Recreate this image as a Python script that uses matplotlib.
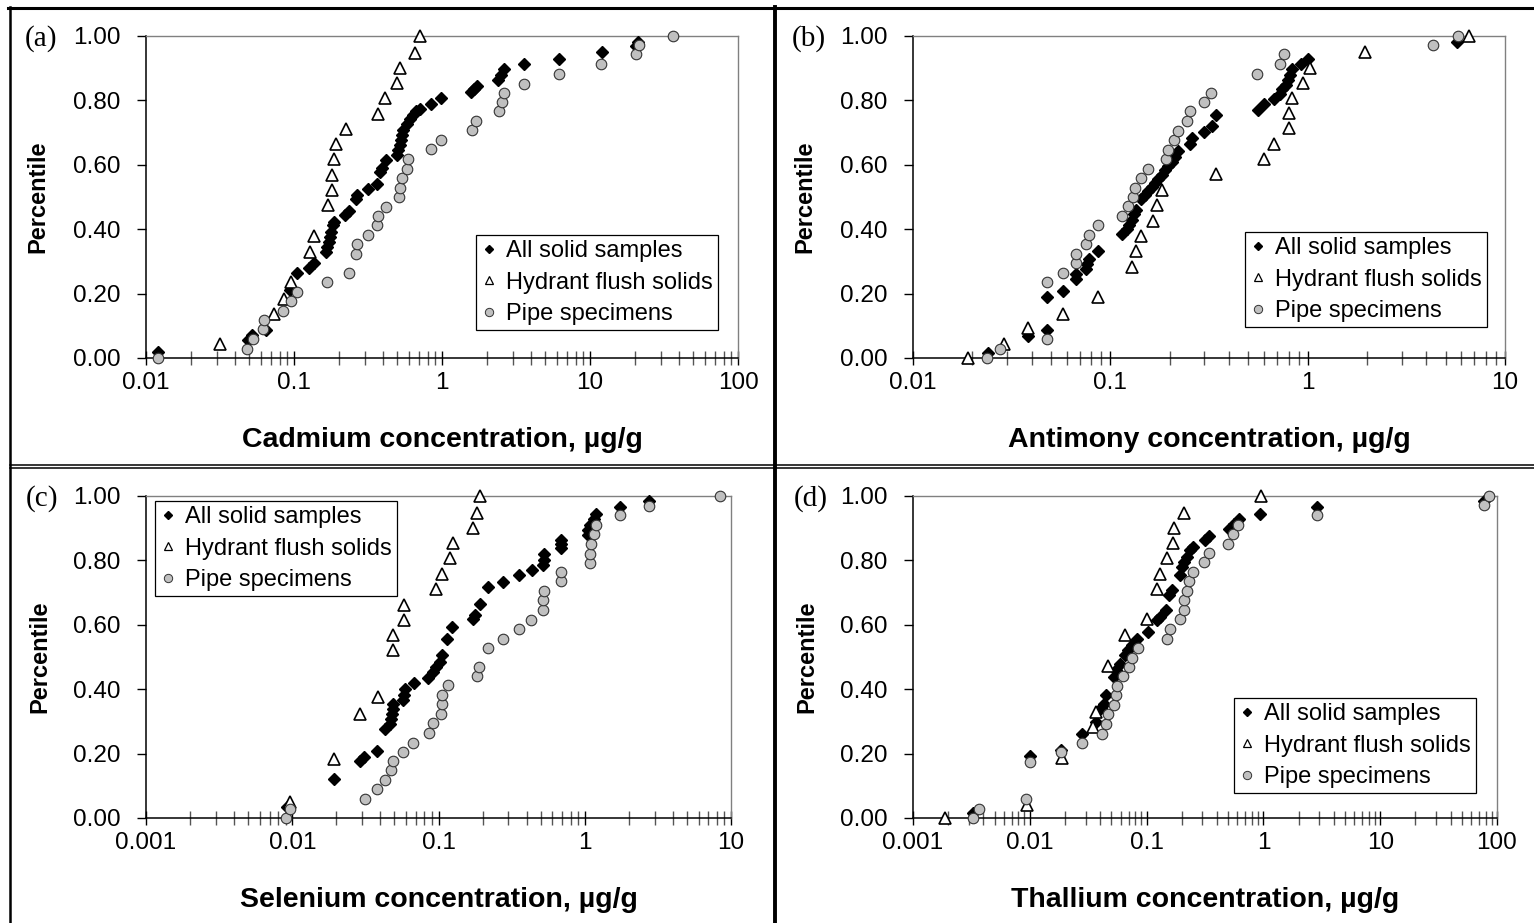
import matplotlib
matplotlib.use('Agg')
import matplotlib.pyplot as plt
from matplotlib.lines import Line2D
from matplotlib.ticker import LogLocator, NullFormatter, FixedLocator, FixedFormatter

W, H = 1534, 923

# ---- data (x in ug/g, y = percentile) ----
# (a) Cadmium
a_all_x = [0.012, 0.049, 0.052, 0.065, 0.094, 0.105, 0.127, 0.137, 0.165, 0.168, 0.172, 0.175,
           0.178, 0.183, 0.186, 0.222, 0.234, 0.264, 0.268, 0.317, 0.361, 0.380, 0.393, 0.416,
           0.494, 0.507, 0.519, 0.527, 0.533, 0.546, 0.578, 0.607, 0.637, 0.670, 0.710, 0.845,
           0.99, 1.58, 1.64, 1.73, 2.40, 2.49, 2.63, 3.59, 6.22, 12.1, 20.5, 21.2]
a_all_y = [0.019, 0.055, 0.070, 0.086, 0.210, 0.265, 0.280, 0.296, 0.329, 0.345, 0.360, 0.376,
           0.391, 0.412, 0.422, 0.443, 0.456, 0.495, 0.507, 0.526, 0.541, 0.578, 0.590, 0.614,
           0.629, 0.645, 0.660, 0.676, 0.692, 0.707, 0.728, 0.743, 0.754, 0.766, 0.774, 0.790,
           0.808, 0.826, 0.836, 0.844, 0.862, 0.878, 0.896, 0.912, 0.930, 0.950, 0.970, 0.981]
a_hyd_x = [0.0314, 0.0734, 0.085, 0.0955, 0.1285, 0.1375, 0.171, 0.180, 0.1815, 0.186, 0.193,
           0.226, 0.367, 0.412, 0.499, 0.521, 0.652, 0.713]
a_hyd_y = [0.045, 0.138, 0.184, 0.236, 0.329, 0.379, 0.474, 0.521, 0.567, 0.617, 0.666,
           0.712, 0.759, 0.807, 0.855, 0.902, 0.948, 1.0]
a_pipe_x = [0.0121, 0.0479, 0.0529, 0.0622, 0.0628, 0.0838, 0.0955, 0.105, 0.1675, 0.234,
            0.264, 0.266, 0.317, 0.361, 0.370, 0.416, 0.513, 0.521, 0.533, 0.583, 0.586, 0.845,
            0.99, 1.6, 1.71, 2.43, 2.53, 2.63, 3.59, 6.15, 11.9, 20.5, 21.5, 36.3]
a_pipe_y = [0.0, 0.029, 0.058, 0.089, 0.117, 0.146, 0.176, 0.205, 0.236, 0.265, 0.324, 0.353,
            0.383, 0.412, 0.441, 0.469, 0.5, 0.529, 0.559, 0.588, 0.617, 0.648, 0.676, 0.707,
            0.736, 0.766, 0.795, 0.823, 0.852, 0.883, 0.912, 0.943, 0.971, 1.0]

# (b) Antimony
b_all_x = [0.0239, 0.0383, 0.0478, 0.0478, 0.0576, 0.067, 0.067, 0.0753, 0.076, 0.0784, 0.0866,
           0.1146, 0.121, 0.125, 0.129, 0.132, 0.135, 0.143, 0.149, 0.156, 0.162, 0.168, 0.175,
           0.182, 0.19, 0.197, 0.205, 0.213, 0.219, 0.252, 0.26, 0.297, 0.328, 0.344, 0.558,
           0.602, 0.673, 0.723, 0.745, 0.774, 0.795, 0.814, 0.835, 0.922, 1.008, 5.73]
b_all_y = [0.017, 0.068, 0.086, 0.189, 0.208, 0.244, 0.262, 0.277, 0.293, 0.308, 0.331, 0.384,
           0.40, 0.414, 0.43, 0.446, 0.459, 0.495, 0.507, 0.519, 0.531, 0.543, 0.555, 0.567,
           0.583, 0.596, 0.609, 0.624, 0.642, 0.666, 0.683, 0.702, 0.72, 0.756, 0.769, 0.788,
           0.805, 0.821, 0.836, 0.847, 0.862, 0.88, 0.896, 0.912, 0.93, 0.981]
b_hyd_x = [0.0191, 0.0288, 0.0383, 0.0576, 0.0866, 0.129, 0.135, 0.1436, 0.1644, 0.172, 0.183,
           0.344, 0.598, 0.678, 0.807, 0.807, 0.832, 0.944, 1.03, 1.96, 6.56]
b_hyd_y = [0.0, 0.045, 0.093, 0.138, 0.189, 0.283, 0.331, 0.379, 0.424, 0.474, 0.523, 0.570,
           0.619, 0.666, 0.714, 0.762, 0.807, 0.855, 0.90, 0.95, 1.0]
b_pipe_x = [0.0237, 0.0277, 0.0478, 0.0478, 0.0576, 0.067, 0.067, 0.0753, 0.0784, 0.0866,
            0.1146, 0.1236, 0.13, 0.134, 0.1436, 0.155, 0.191, 0.197, 0.209, 0.219, 0.246,
            0.254, 0.297, 0.325, 0.554, 0.723, 0.759, 4.3, 5.78]
b_pipe_y = [0.0, 0.029, 0.058, 0.236, 0.265, 0.295, 0.324, 0.353, 0.383, 0.412, 0.441, 0.471,
            0.5, 0.529, 0.559, 0.588, 0.617, 0.647, 0.676, 0.705, 0.735, 0.766, 0.795, 0.824,
            0.883, 0.914, 0.943, 0.971, 1.0]

# (c) Selenium
c_all_x = [0.00914, 0.0194, 0.029, 0.0309, 0.0381, 0.043, 0.0465, 0.0477, 0.048, 0.049, 0.049,
           0.0574, 0.058, 0.059, 0.068, 0.085, 0.092, 0.0957, 0.102, 0.106, 0.1135, 0.1245,
           0.1726, 0.179, 0.191, 0.218, 0.277, 0.354, 0.436, 0.519, 0.523, 0.523, 0.689, 0.689,
           0.689, 1.05, 1.06, 1.08, 1.15, 1.2, 1.73, 2.74]
c_all_y = [0.034, 0.122, 0.176, 0.189, 0.208, 0.277, 0.293, 0.308, 0.324, 0.34, 0.353, 0.365,
           0.383, 0.40, 0.419, 0.435, 0.453, 0.469, 0.484, 0.505, 0.557, 0.593, 0.619, 0.629,
           0.666, 0.717, 0.733, 0.754, 0.769, 0.785, 0.80, 0.821, 0.838, 0.852, 0.862, 0.878,
           0.893, 0.909, 0.93, 0.945, 0.966, 0.983]
c_hyd_x = [0.00964, 0.0194, 0.029, 0.0383, 0.0485, 0.049, 0.058, 0.058, 0.0955, 0.105, 0.119,
           0.126, 0.1726, 0.184, 0.191]
c_hyd_y = [0.05, 0.184, 0.324, 0.376, 0.521, 0.567, 0.614, 0.663, 0.712, 0.759, 0.807, 0.855,
           0.902, 0.948, 1.0]
c_pipe_x = [0.0090, 0.00964, 0.0314, 0.0381, 0.043, 0.0477, 0.0485, 0.0574, 0.067, 0.0863,
            0.091, 0.104, 0.105, 0.106, 0.1164, 0.182, 0.189, 0.218, 0.277, 0.354, 0.43, 0.519,
            0.519, 0.523, 0.689, 0.689, 1.08, 1.08, 1.1, 1.15, 1.2, 1.73, 2.74, 8.37]
c_pipe_y = [0.0, 0.029, 0.058, 0.089, 0.117, 0.148, 0.176, 0.205, 0.234, 0.265, 0.295, 0.322,
            0.353, 0.381, 0.412, 0.44, 0.469, 0.528, 0.557, 0.586, 0.616, 0.647, 0.676, 0.705,
            0.735, 0.764, 0.793, 0.821, 0.852, 0.881, 0.911, 0.94, 0.969, 1.0]

# (d) Thallium
d_all_x = [0.00327, 0.0101, 0.0185, 0.028, 0.0366, 0.041, 0.043, 0.045, 0.0522, 0.055, 0.059,
           0.065, 0.069, 0.0757, 0.083, 0.102, 0.123, 0.131, 0.147, 0.154, 0.164, 0.194, 0.2,
           0.21, 0.22, 0.237, 0.248, 0.318, 0.34, 0.505, 0.56, 0.615, 0.94, 2.88, 78]
d_all_y = [0.016, 0.193, 0.21, 0.262, 0.298, 0.342, 0.355, 0.381, 0.438, 0.459, 0.479, 0.505,
           0.521, 0.538, 0.557, 0.578, 0.614, 0.624, 0.645, 0.692, 0.707, 0.754, 0.78, 0.795,
           0.81, 0.831, 0.842, 0.862, 0.876, 0.899, 0.914, 0.93, 0.943, 0.966, 0.986]
d_hyd_x = [0.00187, 0.00946, 0.0189, 0.0348, 0.0371, 0.0465, 0.0649, 0.1007, 0.1227, 0.131,
           0.1496, 0.1684, 0.173, 0.2075, 0.953]
d_hyd_y = [0.0, 0.039, 0.186, 0.283, 0.329, 0.471, 0.567, 0.617, 0.712, 0.759, 0.807, 0.855,
           0.902, 0.948, 1.0]
d_pipe_x = [0.00327, 0.0037, 0.0093, 0.0101, 0.0185, 0.028, 0.0415, 0.0446, 0.0465, 0.0522,
            0.055, 0.056, 0.063, 0.0703, 0.0747, 0.084, 0.1496, 0.16, 0.194, 0.207, 0.207, 0.22,
            0.232, 0.25, 0.312, 0.34, 0.5, 0.55, 0.61, 2.88, 78, 85.9]
d_pipe_y = [0.0, 0.029, 0.058, 0.174, 0.205, 0.234, 0.262, 0.293, 0.322, 0.352, 0.381, 0.41,
            0.44, 0.469, 0.498, 0.528, 0.557, 0.586, 0.617, 0.647, 0.676, 0.705, 0.735, 0.764,
            0.795, 0.823, 0.852, 0.881, 0.911, 0.942, 0.971, 1.0]

series_names = ['All solid samples', 'Hydrant flush solids', 'Pipe specimens']
y_ticks = [0.0, 0.2, 0.4, 0.6, 0.8, 1.0]

plt.rcParams['font.family'] = ['Liberation Sans', 'DejaVu Sans']
FS = 17.5        # tick labels
FS_LEG = 17      # legend text
FS_XLAB = 20.5   # bold x axis titles

fig = plt.figure(figsize=(W / 100, H / 100), dpi=100)


def px_rect(left, top, right, bottom):
    return [left / W, 1 - bottom / H, (right - left) / W, (bottom - top) / H]


def draw_panel(rect, tag, xs, ys, xlim, xticks, xticklabels, xlabel, legend_at):
    ax = fig.add_axes(rect)
    ax.set_xscale('log')
    ax.set_xlim(*xlim)
    ax.set_ylim(0, 1)

    all_x, hyd_x, pipe_x = xs
    all_y, hyd_y, pipe_y = ys
    ax.plot(all_x, all_y, ls='none', marker='D', ms=5.8, mfc='black', mec='black',
            clip_on=False, zorder=3)
    ax.plot(hyd_x, hyd_y, ls='none', marker='^', ms=8, mfc='white', mec='black', mew=1.2,
            clip_on=False, zorder=4)
    ax.plot(pipe_x, pipe_y, ls='none', marker='o', ms=7.6, mfc='#c0c0c0', mec='#333333',
            mew=0.8, clip_on=False, zorder=5)

    # axes lines: black left/bottom, gray plot-area border top/right
    for side in ['left', 'bottom']:
        ax.spines[side].set_color('black')
        ax.spines[side].set_linewidth(1.1)
    for side in ['top', 'right']:
        ax.spines[side].set_color('#808080')
        ax.spines[side].set_linewidth(1.0)

    ax.xaxis.set_major_locator(FixedLocator(xticks))
    ax.xaxis.set_major_formatter(FixedFormatter(xticklabels))
    ax.xaxis.set_minor_locator(LogLocator(base=10, subs=[2, 3, 4, 5, 6, 7, 8, 9], numticks=20))
    ax.xaxis.set_minor_formatter(NullFormatter())
    ax.tick_params(axis='x', which='both', direction='inout', length=9.5, width=1.0,
                   colors='black', labelsize=FS, pad=5)
    ax.tick_params(axis='x', which='minor', color='#555555')

    ax.set_yticks(y_ticks)
    ax.set_yticklabels([f'{v:.2f}' for v in y_ticks])
    ax.tick_params(axis='y', which='major', direction='out', length=6.5, width=1.0,
                   labelsize=FS, pad=12)
    ax.tick_params(axis='y', which='minor', left=False)

    ax.set_xlabel(xlabel, fontsize=FS_XLAB, fontweight='bold')
    ax.xaxis.set_label_coords(0.5, -0.255)
    ax.xaxis.label.set_va('center')
    ax.set_ylabel('Percentile', fontsize=FS_LEG, fontweight='bold')
    ax.yaxis.set_label_coords(-0.182, 0.5)
    ax.yaxis.label.set_va('center')

    # panel tag like "(a)" just left of the top tick label
    ax.text(-0.205, 0.992, tag, transform=ax.transAxes, fontsize=21,
            family=['Liberation Serif', 'DejaVu Serif'], ha='left', va='center')

    handles = [
        Line2D([], [], ls='none', marker='D', ms=4.2, mfc='black', mec='black'),
        Line2D([], [], ls='none', marker='^', ms=6, mfc='white', mec='black', mew=0.9),
        Line2D([], [], ls='none', marker='o', ms=6, mfc='#c0c0c0', mec='#333333', mew=0.7),
    ]
    leg = ax.legend(handles, series_names, loc='upper left',
                    bbox_to_anchor=(legend_at[0] / W, 1 - legend_at[1] / H),
                    bbox_transform=fig.transFigure, fontsize=FS_LEG, frameon=True,
                    fancybox=False, framealpha=1, edgecolor='black', borderaxespad=0,
                    borderpad=0.22, labelspacing=0.4, handlelength=0.7, handletextpad=0.35)
    leg.get_frame().set_linewidth(0.9)
    leg.set_zorder(10)
    return ax


draw_panel(px_rect(146, 36, 738, 358), '(a)',
           (a_all_x, a_hyd_x, a_pipe_x), (a_all_y, a_hyd_y, a_pipe_y),
           (0.01, 100), [0.01, 0.1, 1, 10, 100], ['0.01', '0.1', '1', '10', '100'],
           'Cadmium concentration, µg/g', (476, 235))
draw_panel(px_rect(913, 36, 1505, 358), '(b)',
           (b_all_x, b_hyd_x, b_pipe_x), (b_all_y, b_hyd_y, b_pipe_y),
           (0.01, 10), [0.01, 0.1, 1, 10], ['0.01', '0.1', '1', '10'],
           'Antimony concentration, µg/g', (1245, 232))
draw_panel(px_rect(146, 496, 731, 818), '(c)',
           (c_all_x, c_hyd_x, c_pipe_x), (c_all_y, c_hyd_y, c_pipe_y),
           (0.001, 10), [0.001, 0.01, 0.1, 1, 10], ['0.001', '0.01', '0.1', '1', '10'],
           'Selenium concentration, µg/g', (155, 501))
draw_panel(px_rect(913, 496, 1497, 818), '(d)',
           (d_all_x, d_hyd_x, d_pipe_x), (d_all_y, d_hyd_y, d_pipe_y),
           (0.001, 100), [0.001, 0.01, 0.1, 1, 10, 100],
           ['0.001', '0.01', '0.1', '1', '10', '100'],
           'Thallium concentration, µg/g', (1234, 698))


# frame lines separating the four panels
def fig_line(x0, y0, x1, y1, lw):
    fig.add_artist(Line2D([x0 / W, x1 / W], [1 - y0 / H, 1 - y1 / H],
                          transform=fig.transFigure, color='black', lw=lw))


fig_line(8, 7.5, W, 7.5, 2.2)
fig_line(9.5, 6.5, 9.5, H, 1.8)
fig_line(775.5, 6.5, 775.5, H, 2.8)
fig_line(9.5, 465.3, W, 465.3, 1.1)
fig_line(9.5, 468.2, W, 468.2, 1.1)

fig.savefig('out.png', dpi=100)
